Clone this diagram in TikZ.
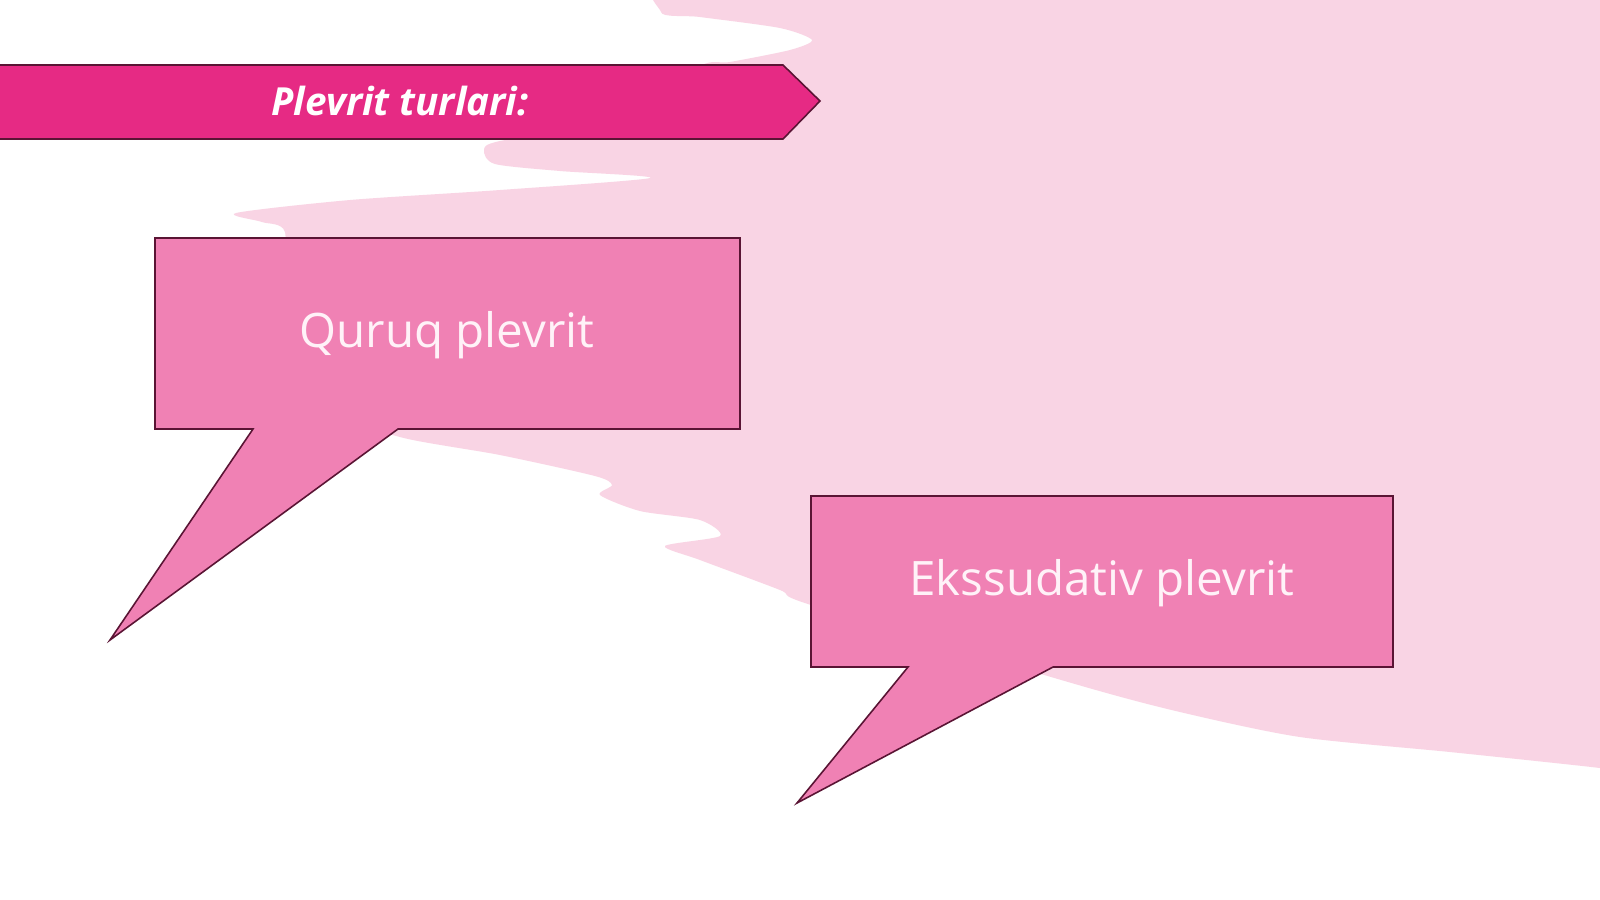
\documentclass[tikz,border=0pt]{standalone}
\usepackage{fontspec}
\setmainfont{Open Sans}
\usepackage{tikz}
\definecolor{blobpink}{HTML}{F9D4E4}
\definecolor{bannerpink}{HTML}{E62A84}
\definecolor{bubblepink}{HTML}{F081B4}
\definecolor{edgedark}{HTML}{5A1434}
\definecolor{textpale}{HTML}{FFF2F8}

\begin{document}
\begin{tikzpicture}[x=0.01cm, y=-0.01cm,
  bubble/.style={draw=edgedark, fill=bubblepink, line width=0.45pt, line join=miter},
  bubbletext/.style={text=textpale, font=\fontsize{13.5}{16}\selectfont}]
\useasboundingbox (0,0) rectangle (1600,899);
\clip (0,0) rectangle (1600,899);
\fill[white] (0,0) rectangle (1600,899);
% pale brush stroke behind everything
\fill[blobpink] plot[smooth cycle, tension=0.45] coordinates {
  (690,-30) (1200,-40) (1640,-40) (1640,400) (1640,775) (1600,768)
  (1450,752) (1300,737) (1180,712) (1075,684) (811,605)
  (780,590) (700,560) (665,546) (720,536) (700,520) (640,511)
  (600,495) (612,485) (595,476) (500,455) (400,437) (340,410)
  (285,300) (285,232) (262,222) (236,213) (350,200) (500,190)
  (650,178) (560,171) (495,164) (484,150) (500,141) (620,120)
  (700,66) (730,62) (790,50) (812,40) (780,28) (700,17) (661,12)};
% title banner
\draw[draw=edgedark, fill=bannerpink, line width=0.45pt]
  (-5,65) -- (783,65) -- (820,101) -- (783,139) -- (-5,139) -- cycle;
\node (title) at (400,101) {\fontsize{11}{13}\selectfont\color{white}\textbf{\textit{Plevrit turlari:}}};
% first callout
\draw[bubble] (155,238) -- (740,238) -- (740,429) -- (398,429)
  -- (110,640) -- (253,429) -- (155,429) -- cycle;
\node[bubbletext] (dry) at (447,335) {Quruq plevrit};
% second callout
\draw[bubble] (811,496) -- (1393,496) -- (1393,667) -- (1053,667)
  -- (797,803) -- (908,667) -- (811,667) -- cycle;
\node[bubbletext] (exud) at (1102,583) {Ekssudativ plevrit};
\end{tikzpicture}
\end{document}
